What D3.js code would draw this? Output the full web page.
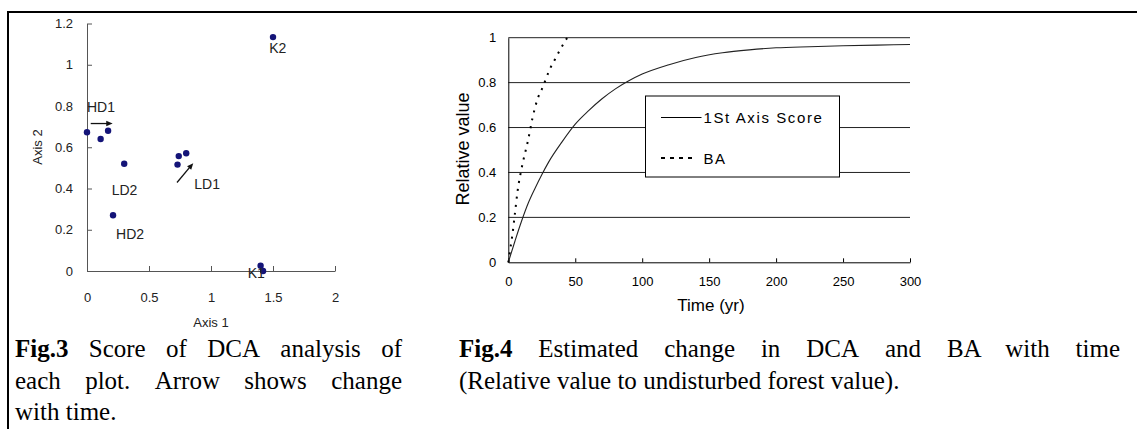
<html>
<head>
<style>
  body { margin: 0; background: #fff; }
  svg text { font-family: "Liberation Sans", Arial, sans-serif; }
  .cap { font-family: "Liberation Serif", "Times New Roman", serif; font-size: 25px; fill: #000; }
</style>
<script src="https://cdn.jsdelivr.net/npm/d3@7/dist/d3.min.js"></script>
</head>
<body>
<svg id="container" width="1137" height="429"></svg>
<script>
// ---- Fig.3 : DCA scores of each plot ----
let axis1 = [0, 0.11, 0.17, 0.30, 0.21, 0.73, 0.74, 0.80, 1.50, 1.40, 1.42]
let axis2 = [0.673, 0.64, 0.68, 0.52, 0.27, 0.516, 0.557, 0.571, 1.134, 0.026, 0.0]
let fig3XTicks = [0, 0.5, 1, 1.5, 2]
let fig3YTicks = [0, 0.2, 0.4, 0.6, 0.8, 1, 1.2]
let plotNames = ["HD1", "LD2", "HD2", "LD1", "K2", "K1"]
let nameX = [0, 0.199, 0.234, 0.865, 1.47, 1.296]
let nameY = [0.77, 0.369, 0.154, 0.397, 1.057, -0.035]
// arrows: [x1, y1, x2, y2] in axis units
let arrows = [[0.03, 0.715, 0.207, 0.715], [0.726, 0.429, 0.857, 0.523]]

// ---- Fig.4 : estimated change with time ----
let scoreYears = [0, 5, 10, 15, 20, 25, 30, 40, 50, 60, 70, 80, 90, 100, 120, 140, 160, 180, 200, 225, 250, 275, 300]
let scoreValues = [0, 0.095, 0.185, 0.265, 0.33, 0.39, 0.445, 0.535, 0.615, 0.675, 0.728, 0.772, 0.808, 0.838, 0.88, 0.912, 0.933, 0.946, 0.955, 0.96, 0.964, 0.967, 0.97]
let baYears = [0, 2, 3, 5, 7, 10, 15, 18, 22, 25, 28, 31, 35, 39, 44]
let baValues = [0, 0.08, 0.12, 0.22, 0.32, 0.42, 0.55, 0.64, 0.73, 0.77, 0.815, 0.86, 0.905, 0.95, 1.0]
let fig4XTicks = [0, 50, 100, 150, 200, 250, 300]
let fig4YTicks = [0, 0.2, 0.4, 0.6, 0.8, 1]
let seriesNames = ["1St Axis Score", "BA"]

let cap3 = ["Fig.3 Score of DCA analysis of", "each plot. Arrow shows change", "with time."]
let cap4 = ["Fig.4 Estimated change in DCA and BA with time", "(Relative value to undisturbed forest value)."]

let svg = d3.select("#container")

// page frame (top and left rule)
svg.append("line").attr("x1", 8).attr("x2", 1137).attr("y1", 12).attr("y2", 12)
    .attr("stroke", "#000").attr("stroke-width", 2)
svg.append("line").attr("x1", 8).attr("x2", 8).attr("y1", 11).attr("y2", 429)
    .attr("stroke", "#000").attr("stroke-width", 2)

// ===== Fig.3 =====
let x3 = d3.scaleLinear().domain([0, 2]).range([87, 335])
let y3 = d3.scaleLinear().domain([0, 1.2]).range([271, 23.5])
let g3 = svg.append("g")

let gx3 = g3.append("g").attr("transform", "translate(0,271)")
    .call(d3.axisBottom(x3).tickValues(fig3XTicks).tickSize(-5).tickSizeOuter(0).tickPadding(22)
        .tickFormat(d3.format("")))
let gy3 = g3.append("g").attr("transform", "translate(87,0)")
    .call(d3.axisLeft(y3).tickValues(fig3YTicks).tickSize(-5).tickSizeOuter(0).tickPadding(14)
        .tickFormat(d3.format("")))
g3.selectAll(".domain, .tick line").attr("stroke", "#555")
g3.selectAll(".tick text").attr("font-size", 13).attr("fill", "#222")

g3.append("text").attr("x", 211).attr("y", 327).attr("text-anchor", "middle")
    .attr("font-size", 13).attr("fill", "#222").text("Axis 1")
g3.append("text").attr("transform", "translate(42,147) rotate(-90)").attr("text-anchor", "middle")
    .attr("font-size", 13).attr("fill", "#222").text("Axis 2")

g3.selectAll("circle").data(axis1).enter().append("circle")
    .attr("cx", d => x3(d))
    .attr("cy", (d, i) => y3(axis2[i]))
    .attr("r", 3.2)
    .attr("fill", "#141478")

g3.selectAll(".pname").data(plotNames).enter().append("text")
    .attr("class", "pname")
    .attr("x", (d, i) => x3(nameX[i]))
    .attr("y", (d, i) => y3(nameY[i]))
    .attr("font-size", 14).attr("fill", "#222")
    .text(d => d)

g3.selectAll(".arrow").data(arrows).enter().append("g").attr("class", "arrow")
    .each(function(a) {
        let g = d3.select(this)
        let xa = x3(a[0]), ya = y3(a[1]), xb = x3(a[2]), yb = y3(a[3])
        let ang = Math.atan2(yb - ya, xb - xa)
        g.append("line").attr("x1", xa).attr("y1", ya)
            .attr("x2", xb - 4 * Math.cos(ang)).attr("y2", yb - 4 * Math.sin(ang))
            .attr("stroke", "#111").attr("stroke-width", 1.3)
        let p = [[xb, yb],
            [xb - 7 * Math.cos(ang - 0.4), yb - 7 * Math.sin(ang - 0.4)],
            [xb - 7 * Math.cos(ang + 0.4), yb - 7 * Math.sin(ang + 0.4)]]
        g.append("path").attr("d", d3.line()(p) + "Z").attr("fill", "#111")
    })

// ===== Fig.4 =====
let x4 = d3.scaleLinear().domain([0, 300]).range([508.3, 910])
let y4 = d3.scaleLinear().domain([0, 1]).range([262.3, 37.7])
let g4 = svg.append("g")

g4.selectAll(".grid").data(fig4YTicks.filter(d => d > 0)).enter().append("line")
    .attr("class", "grid")
    .attr("x1", x4(0)).attr("x2", x4(300))
    .attr("y1", d => y4(d)).attr("y2", d => y4(d))
    .attr("stroke", "#222").attr("stroke-width", 1)

let gx4 = g4.append("g").attr("transform", "translate(0," + y4(0) + ")")
    .call(d3.axisBottom(x4).tickValues(fig4XTicks).tickSize(-4).tickSizeOuter(0).tickPadding(14))
let gy4 = g4.append("g").attr("transform", "translate(" + x4(0) + ",0)")
    .call(d3.axisLeft(y4).tickValues(fig4YTicks).tickSize(0).tickPadding(12)
        .tickFormat(d3.format("")))
g4.selectAll(".domain, .tick line").attr("stroke", "#000")
g4.selectAll(".tick text").attr("font-size", 13).attr("fill", "#000")

g4.append("text").attr("x", 711).attr("y", 311).attr("text-anchor", "middle")
    .attr("font-size", 17).text("Time (yr)")
g4.append("text").attr("transform", "translate(469,149) rotate(-90)").attr("text-anchor", "middle")
    .attr("font-size", 18).text("Relative value")

let line4 = d3.line().x(d => x4(d[0])).y(d => y4(d[1])).curve(d3.curveMonotoneX)
g4.append("path").datum(scoreYears.map((t, i) => [t, scoreValues[i]]))
    .attr("d", line4).attr("fill", "none").attr("stroke", "#222").attr("stroke-width", 1.1)
g4.append("path").datum(baYears.map((t, i) => [t, baValues[i]]))
    .attr("d", line4).attr("fill", "none").attr("stroke", "#000").attr("stroke-width", 2)
    .attr("stroke-dasharray", "2,6")

// legend
let lg = g4.append("g").attr("transform", "translate(645.5,96)")
lg.append("rect").attr("width", 194).attr("height", 81).attr("fill", "#fff")
    .attr("stroke", "#000").attr("stroke-width", 1)
lg.selectAll(".lgline").data(seriesNames).enter().append("line")
    .attr("x1", 15.5).attr("x2", (d, i) => i == 0 ? 56 : 48)
    .attr("y1", (d, i) => 21.5 + i * 40.5).attr("y2", (d, i) => 21.5 + i * 40.5)
    .attr("stroke", "#000").attr("stroke-width", (d, i) => i == 0 ? 1 : 2)
    .attr("stroke-dasharray", (d, i) => i == 0 ? null : "4,5")
lg.selectAll(".lgtext").data(seriesNames).enter().append("text")
    .attr("x", 58).attr("y", (d, i) => 27 + i * 40.5)
    .attr("font-size", 15).attr("letter-spacing", 1.6)
    .text(d => d)

// ===== captions (justified like the printed page) =====
function caption(lines, x0, y0, width, lead, justifyCount) {
    let g = svg.append("g").attr("transform", "translate(" + x0 + ",0)")
    lines.forEach((ln, li) => {
        let words = ln.split(" ")
        let t = g.append("text").attr("class", "cap").attr("y", y0 + li * lead)
        let spans = words.map((wd, wi) => t.append("tspan").text(wd)
            .attr("font-weight", (li == 0 && wi == 0) ? "bold" : null))
        let widths = spans.map(s => s.node().getComputedTextLength())
        let total = d3.sum(widths)
        let space = 6.3
        if (li < justifyCount && words.length > 1) space = (width - total) / (words.length - 1)
        let cx = 0
        spans.forEach((s, i) => { s.attr("x", cx); cx += widths[i] + space })
    })
}
caption(cap3, 15, 357, 387, 31.5, 2)
caption(cap4, 459, 357, 661, 31.5, 1)
</script>
</body>
</html>
